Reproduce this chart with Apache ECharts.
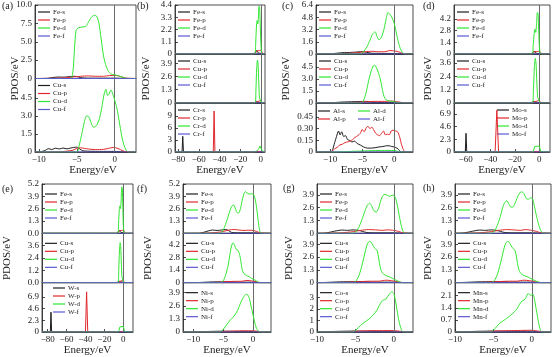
<!DOCTYPE html>
<html><head><meta charset="utf-8">
<script src="https://cdn.jsdelivr.net/npm/echarts@6/dist/echarts.min.js"></script>
<style>html,body{margin:0;padding:0;background:#fff}#c{width:554px;height:357px}</style>
</head><body><div id="c"></div><script>
// ---------- tick values / labels ----------
const xTicksA = [-10,-5,0];
const xTicksB = [-80,-60,-40,-20,0];
const xTicksC = [-10,-5,0];
const xTicksD = [-60,-40,-20,0];
const xTicksE = [-80,-60,-40,-20,0];
const xTicksF = [-10,-5,0];
const xTicksG = [-10,-5,0];
const xTicksH = [-10,-5,0];

const yTA1=[0,2.5,5,7.5,10], yLA1=['0','2.5','5.0','7.5','10.0'];
const yTA2=[0,1.5,3,4.5], yLA2=['0','1.5','3.0','4.5'];
const yTB1=[0,1.1,2.2,3.3,4.4], yLB1=['0','1.1','2.2','3.3','4.4'];
const yTB2=[0,1.3,2.6,3.9], yLB2=['0','1.3','2.6','3.9'];
const yTB3=[0,3,6,9], yLB3=['0','3','6','9'];
const yTC1=[0,1.6,3.2,4.8,6.4], yLC1=['0','1.6','3.2','4.8','6.4'];
const yTC2=[0,1.5,3,4.5], yLC2=['0','1.5','3.0','4.5'];
const yTC3=[0,0.15,0.3,0.45], yLC3=['0','0.15','0.30','0.45'];
const yTD1=[0,1.4,2.8,4.2], yLD1=['0','1.4','2.8','4.2'];
const yTD2=[0,1.2,2.4,3.6], yLD2=['0','1.2','2.4','3.6'];
const yTD3=[0,2.3,4.6,6.9], yLD3=['0','2.3','4.6','6.9'];
const yTE1=[0,1.3,2.6,3.9,5.2], yLE1=['0.0','1.3','2.6','3.9','5.2'];
const yTE2=[0,1.2,2.4,3.6], yLE2=['0.0','1.2','2.4','3.6'];
const yTE3=[0,2.3,4.6,6.9], yLE3=['0','2.3','4.6','6.9'];
const yTF1=[0,1.3,2.6,3.9,5.2], yLF1=['0','1.3','2.6','3.9','5.2'];
const yTF2=[0,1.4,2.8,4.2], yLF2=['0','1.4','2.8','4.2'];
const yTF3=[0,1.3,2.6,3.9], yLF3=['0','1.3','2.6','3.9'];
const yTG1=[0,1.3,2.6,3.9], yLG1=['0','1.3','2.6','3.9'];
const yTG3=[0,1,2,3], yLG3=['0','1','2','3'];
const yTH3=[0,0.7,1.4,2.1], yLH3=['0','0.7','1.4','2.1'];

// ---------- data: [energy, PDOS] ----------
// (a)
const aFe_s=[[-10.5,0],[-9,0.02],[-8.2,0.12],[-7.5,0.2],[-6.8,0.18],[-6,0.25],[-5.3,0.3],[-4.8,0.2],[-4.2,0.08],[-3,0.05],[-1,0.05],[0,0.05],[1,0.02],[2.8,0]];
const aFe_p=[[-10.5,0],[-8,0.03],[-6.5,0.1],[-5.5,0.2],[-4.5,0.3],[-3.5,0.35],[-2.5,0.3],[-1.5,0.3],[-0.7,0.4],[0,0.42],[0.5,0.35],[1.0,0.2],[1.5,0.05],[2.8,0]];
const aFe_d=[[-10.5,0],[-5.8,0],[-5.5,1],[-5.3,4],[-5.1,6.5],[-4.8,6.9],[-4.3,7.0],[-3.8,7.1],[-3.5,7.6],[-3.1,8.3],[-2.7,8.6],[-2.4,8.5],[-2.1,7.6],[-1.8,5.5],[-1.5,3.2],[-1.2,1.9],[-0.9,1.1],[-0.5,0.6],[0,0.5],[0.4,0.4],[0.9,0.2],[1.4,0.05],[1.8,0],[2.8,0]];
const aCu_s=[[-10.5,0],[-9.8,0.02],[-9.2,0.12],[-8.7,0.28],[-8.3,0.2],[-7.8,0.32],[-7.3,0.25],[-6.8,0.33],[-6.3,0.26],[-5.8,0.33],[-5.4,0.38],[-5.0,0.4],[-4.6,0.25],[-4.2,0.1],[-3,0.06],[-1,0.05],[0,0.05],[1,0.02],[2.8,0]];
const aCu_p=[[-10.5,0],[-7,0.03],[-5.5,0.15],[-5.0,0.3],[-4.5,0.35],[-4.0,0.3],[-3.5,0.25],[-2.5,0.2],[-1.5,0.22],[-0.8,0.3],[-0.2,0.38],[0.3,0.32],[0.8,0.18],[1.3,0.05],[2.8,0]];
const aCu_d=[[-10.5,0],[-5.0,0],[-4.7,0.5],[-4.3,1.6],[-4.0,2.5],[-3.7,3.0],[-3.4,2.9],[-3.1,2.4],[-2.8,2.05],[-2.4,2.2],[-2.0,2.8],[-1.7,3.7],[-1.4,4.8],[-1.15,5.2],[-0.95,4.7],[-0.75,4.8],[-0.5,5.15],[-0.25,4.8],[0,4.3],[0.3,3.6],[0.6,2.5],[0.9,1.4],[1.2,0.6],[1.5,0.15],[1.8,0],[2.8,0]];
const aZero=[[-10.5,0],[2.8,0]];
// (b)
const bFe_s=[[-83,0],[-7,0],[-5.5,0.15],[-4.5,0.3],[-3.5,0.25],[-2.5,0.1],[0,0.05],[1,0],[4,0]];
const bFe_p=[[-83,0],[-6.5,0],[-5,0.1],[-3.5,0.3],[-1.5,0.3],[0,0.35],[1,0.2],[2,0],[4,0]];
const bFe_d=[[-83,0],[-5.8,0],[-5,1.0],[-4.2,2.6],[-3.6,3.0],[-3.0,2.7],[-2.4,3.2],[-1.8,4.3],[-1.2,4.2],[-0.6,2.6],[0,1.0],[0.6,0.2],[1.5,0],[4,0]];
const bCu_s=[[-83,0],[-7,0],[-5.5,0.1],[-4.5,0.15],[-3,0.08],[0,0.05],[1,0],[4,0]];
const bCu_p=[[-83,0],[-6,0],[-4.5,0.1],[-2.5,0.15],[-0.5,0.25],[0.5,0.15],[1.5,0],[4,0]];
const bCu_d=[[-83,0],[-5.5,0],[-4.8,1.2],[-4.0,3.5],[-3.3,4.2],[-2.7,3.8],[-2.0,2.0],[-1.3,0.5],[0,0.2],[1,0],[4,0]];
const bCr_s=[[-83,0],[-76.2,0],[-75.5,3.9],[-74.8,0],[-7,0],[-5,0.1],[-2,0.1],[0,0.1],[1,0],[4,0]];
const bCr_p=[[-83,0],[-46,0],[-45.2,10.2],[-44.4,0],[-6,0],[-3,0.15],[0,0.15],[1,0],[4,0]];
const bCr_d=[[-83,0],[-6,0],[-4,0.3],[-2,0.8],[-1,1.5],[0,1.9],[0.8,1.6],[1.5,0.2],[2,0],[4,0]];
const bZero=[[-83,0],[4,0]];
// (c)
const cFe_s=[[-12.2,0],[-10,0.02],[-9,0.1],[-8,0.18],[-7,0.2],[-6,0.25],[-5,0.3],[-4.3,0.22],[-3.5,0.1],[-2,0.08],[0,0.06],[1,0.02],[2.9,0]];
const cFe_p=[[-12.2,0],[-9,0.03],[-7,0.1],[-5.5,0.2],[-4.5,0.3],[-3.5,0.35],[-2.5,0.3],[-1.5,0.3],[-0.7,0.45],[0,0.4],[0.6,0.3],[1.2,0.1],[1.8,0],[2.9,0]];
const cFe_d=[[-12.2,0],[-5.2,0],[-4.8,0.3],[-4.3,0.9],[-3.8,1.8],[-3.4,2.6],[-3.0,2.9],[-2.7,2.3],[-2.4,1.85],[-2.0,2.2],[-1.6,3.3],[-1.3,4.5],[-1.0,5.4],[-0.7,5.2],[-0.4,4.8],[-0.1,4.2],[0.2,3.2],[0.5,2.0],[0.8,1.0],[1.1,0.4],[1.4,0.05],[1.6,0],[2.9,0]];
const cCu_s=[[-12.2,0],[-10,0.02],[-8.5,0.1],[-7,0.15],[-5.5,0.18],[-4.5,0.2],[-3.5,0.1],[-2,0.06],[0,0.05],[1,0.02],[2.9,0]];
const cCu_p=[[-12.2,0],[-8,0.03],[-6,0.08],[-4.5,0.15],[-3,0.2],[-1.5,0.2],[-0.5,0.25],[0.5,0.15],[1.5,0.03],[2.9,0]];
const cCu_d=[[-12.2,0],[-5.2,0],[-4.8,0.3],[-4.4,1.3],[-4.0,2.8],[-3.6,4.0],[-3.3,4.6],[-3.05,4.7],[-2.8,4.4],[-2.5,3.8],[-2.2,3.0],[-1.9,1.8],[-1.6,0.8],[-1.3,0.4],[-0.8,0.25],[-0.3,0.2],[0.2,0.1],[0.7,0],[2.9,0]];
const cAl_s=[[-12.2,0],[-10,0],[-9.7,0.01],[-9.3,0.12],[-9.0,0.2],[-8.7,0.27],[-8.45,0.22],[-8.2,0.26],[-7.9,0.2],[-7.6,0.21],[-7.3,0.16],[-7.0,0.15],[-6.6,0.13],[-6.2,0.14],[-5.8,0.11],[-5.3,0.09],[-4.8,0.065],[-4.2,0.05],[-3.7,0.05],[-3.0,0.055],[-2.4,0.065],[-1.8,0.07],[-1.2,0.08],[-0.8,0.08],[-0.4,0.07],[0,0.065],[0.4,0.05],[0.8,0.02],[1.1,0],[2.9,0]];
const cAl_p=[[-12.2,0],[-10,0],[-9.7,0.01],[-9.3,0.04],[-8.9,0.06],[-8.5,0.09],[-8.1,0.1],[-7.7,0.12],[-7.3,0.13],[-6.9,0.14],[-6.5,0.16],[-6.1,0.19],[-5.7,0.21],[-5.3,0.24],[-5.0,0.29],[-4.7,0.26],[-4.4,0.31],[-4.1,0.33],[-3.8,0.3],[-3.5,0.32],[-3.2,0.28],[-2.9,0.24],[-2.6,0.22],[-2.3,0.21],[-2.0,0.24],[-1.7,0.27],[-1.4,0.22],[-1.1,0.23],[-0.8,0.22],[-0.5,0.27],[-0.2,0.28],[0.2,0.27],[0.5,0.26],[0.8,0.2],[1.1,0.1],[1.4,0.03],[1.7,0],[2.9,0]];
const cAl_d=[[-12.2,0],[-9.5,0],[-6,0.01],[-2,0.02],[0,0.02],[1,0],[2.9,0]];
const cZero=[[-12.2,0],[2.9,0]];
// (d)
const dFe_s=[[-69.5,0],[-7,0],[-5.5,0.15],[-4.5,0.3],[-3.5,0.25],[-2.5,0.1],[0,0.05],[1,0],[8.7,0]];
const dFe_p=[[-69.5,0],[-6.5,0],[-5,0.1],[-3.5,0.3],[-1.5,0.3],[0,0.35],[1,0.2],[2,0],[8.7,0]];
const dFe_d=[[-69.5,0],[-5.8,0],[-5,1.0],[-4.2,2.5],[-3.5,3.0],[-2.9,2.6],[-2.3,3.5],[-1.6,5.0],[-1.0,4.8],[-0.5,2.8],[0,1.0],[0.6,0.2],[1.5,0],[8.7,0]];
const dCu_s=[[-69.5,0],[-7,0],[-5.5,0.1],[-4.5,0.15],[-3,0.08],[0,0.05],[1,0],[8.7,0]];
const dCu_p=[[-69.5,0],[-6,0],[-4.5,0.1],[-2.5,0.15],[-0.5,0.25],[0.5,0.15],[1.5,0],[8.7,0]];
const dCu_d=[[-69.5,0],[-5.5,0],[-4.8,1.2],[-4.0,3.3],[-3.3,4.0],[-2.7,3.6],[-2.0,1.8],[-1.3,0.5],[0,0.2],[1,0],[8.7,0]];
const dMo_s=[[-69.5,0],[-60.3,0],[-59.7,3.4],[-59.1,0],[-6,0],[-4,0.05],[0,0.05],[1,0],[8.7,0]];
const dMo_p=[[-69.5,0],[-36,0],[-34.6,7.6],[-33.2,0],[-6,0],[-3,0.1],[0,0.1],[1,0],[8.7,0]];
const dMo_d=[[-69.5,0],[-5,0],[-4.3,0.3],[-3.8,1.0],[-2,1.05],[0,1.05],[0.6,1.0],[1.2,0.1],[1.6,0],[8.7,0]];
const dZero=[[-69.5,0],[8.7,0]];
// (e)
const eFe_s=[[-86,0],[-7,0],[-5.5,0.15],[-4.5,0.3],[-3.5,0.25],[-2.5,0.1],[0,0.05],[1,0],[10.3,0]];
const eFe_p=[[-86,0],[-6.5,0],[-5,0.1],[-3.5,0.3],[-1.5,0.3],[0,0.35],[1,0.2],[2,0],[10.3,0]];
const eFe_d=[[-86,0],[-5.8,0],[-5,1.0],[-4.2,2.5],[-3.5,2.9],[-2.9,2.6],[-2.3,3.4],[-1.6,4.9],[-1.0,4.7],[-0.5,2.8],[0,1.0],[0.6,0.2],[1.5,0],[10.3,0]];
const eCu_s=[[-86,0],[-7,0],[-5.5,0.1],[-4.5,0.15],[-3,0.08],[0,0.05],[1,0],[10.3,0]];
const eCu_p=[[-86,0],[-6,0],[-4.5,0.1],[-2.5,0.15],[-0.5,0.25],[0.5,0.15],[1.5,0],[10.3,0]];
const eCu_d=[[-86,0],[-5.5,0],[-4.8,1.2],[-4.0,3.2],[-3.3,3.9],[-2.7,3.5],[-2.0,1.8],[-1.3,0.5],[0,0.2],[1,0],[10.3,0]];
const eW_s=[[-86,0],[-77.2,0],[-76.5,3.9],[-75.8,0],[-7,0],[-5,0.05],[0,0.05],[1,0],[10.3,0]];
const eW_p=[[-86,0],[-40,0],[-38.8,7.9],[-37.6,0],[-6,0],[-3,0.1],[0,0.1],[1,0],[10.3,0]];
const eW_d=[[-86,0],[-5,0],[-4.3,0.3],[-3.6,1.0],[-2,1.1],[0,1.1],[0.7,1.0],[1.4,0.1],[2,0],[10.3,0]];
const eZero=[[-86,0],[10.3,0]];
// (f)
const fFe_s=[[-11.7,0],[-9,0],[-8.3,0.1],[-7.5,0.25],[-6.8,0.35],[-6,0.3],[-5.3,0.35],[-4.6,0.4],[-4.1,0.3],[-3.6,0.1],[-2,0.05],[0,0.05],[1,0.02],[3,0]];
const fFe_p=[[-11.7,0],[-8,0.02],[-6,0.1],[-5,0.2],[-4,0.35],[-3.2,0.4],[-2.4,0.35],[-1.5,0.3],[-0.7,0.33],[0,0.3],[0.6,0.2],[1.2,0.05],[3,0]];
const fFe_d=[[-11.7,0],[-5.6,0],[-5.2,0.15],[-4.8,0.6],[-4.4,1.3],[-4.0,2.1],[-3.6,2.8],[-3.3,3.0],[-3.0,2.7],[-2.7,2.2],[-2.4,2.15],[-2.1,2.6],[-1.8,3.5],[-1.5,4.2],[-1.3,4.4],[-1.0,4.25],[-0.6,4.15],[-0.2,4.15],[0.1,4.1],[0.35,3.6],[0.6,2.7],[0.85,1.4],[1.1,0.3],[1.35,0],[3,0]];
const fCu_s=[[-11.7,0],[-9,0.02],[-7,0.08],[-5,0.1],[-4,0.12],[-3,0.06],[0,0.05],[1,0],[3,0]];
const fCu_p=[[-11.7,0],[-7,0.02],[-5,0.08],[-4,0.12],[-3,0.15],[-2,0.15],[-1,0.25],[-0.3,0.2],[0.5,0.1],[1.2,0],[3,0]];
const fCu_d=[[-11.7,0],[-5.5,0],[-5.0,0.2],[-4.6,0.8],[-4.2,1.8],[-3.9,3.0],[-3.6,4.1],[-3.35,4.45],[-3.1,4.2],[-2.8,3.7],[-2.5,3.6],[-2.2,3.0],[-2.0,2.2],[-1.8,1.4],[-1.5,1.0],[-1.1,0.8],[-0.6,0.65],[-0.2,0.45],[0.3,0.3],[0.8,0.1],[1.2,0],[3,0]];
const fNi_s=[[-11.7,0],[-9,0.02],[-7,0.06],[-5,0.08],[-3,0.06],[0,0.05],[1,0],[3,0]];
const fNi_p=[[-11.7,0],[-7,0.02],[-5,0.06],[-3,0.1],[-1.5,0.12],[0,0.12],[1,0.05],[1.8,0],[3,0]];
const fNi_d=[[-11.7,0],[-5.6,0],[-5.2,0.1],[-4.8,0.4],[-4.3,0.8],[-3.8,1.2],[-3.3,1.5],[-2.8,1.9],[-2.4,2.4],[-2.0,3.0],[-1.6,3.45],[-1.2,3.75],[-0.9,3.7],[-0.6,3.3],[-0.3,2.5],[0.0,1.7],[0.3,0.9],[0.6,0.35],[0.9,0.08],[1.1,0],[3,0]];
const fZero=[[-11.7,0],[3,0]];
// (g)
const gFe_s=[[-10,0],[-9,0.02],[-8.3,0.12],[-7.5,0.25],[-6.8,0.33],[-6,0.3],[-5.3,0.35],[-4.6,0.3],[-4.1,0.2],[-3.5,0.08],[-2,0.05],[0,0.05],[1,0.02],[2.5,0]];
const gFe_p=[[-10,0],[-7,0.05],[-5.5,0.15],[-4.3,0.3],[-3.3,0.38],[-2.4,0.35],[-1.5,0.3],[-0.8,0.35],[0,0.3],[0.6,0.2],[1.2,0.05],[2.5,0]];
const gFe_d=[[-10,0],[-5.3,0],[-4.9,0.2],[-4.5,0.7],[-4.1,1.5],[-3.7,2.4],[-3.4,2.9],[-3.15,3.05],[-2.9,2.8],[-2.6,2.3],[-2.3,2.15],[-2.0,2.5],[-1.7,3.3],[-1.4,3.85],[-1.15,3.95],[-0.85,3.85],[-0.55,3.75],[-0.25,3.85],[0,3.85],[0.25,3.5],[0.5,2.7],[0.75,1.6],[1.0,0.7],[1.2,0.2],[1.4,0],[2.5,0]];
const gCu_s=[[-10,0],[-9,0.02],[-7,0.08],[-5,0.1],[-4,0.12],[-3,0.06],[0,0.05],[1,0],[2.5,0]];
const gCu_p=[[-10,0],[-7,0.02],[-5,0.08],[-4,0.12],[-3,0.15],[-2,0.15],[-1,0.25],[-0.3,0.2],[0.5,0.1],[1.2,0],[2.5,0]];
const gCu_d=[[-10,0],[-5.3,0],[-4.9,0.2],[-4.5,0.8],[-4.1,1.9],[-3.7,3.2],[-3.4,4.0],[-3.1,4.2],[-2.8,3.9],[-2.5,3.5],[-2.2,3.3],[-1.95,2.4],[-1.75,1.5],[-1.5,1.0],[-1.1,0.75],[-0.6,0.6],[-0.2,0.45],[0.3,0.25],[0.8,0.08],[1.2,0],[2.5,0]];
const gCo_s=[[-10,0],[-9,0.02],[-7,0.06],[-5,0.08],[-3,0.06],[0,0.05],[1,0],[2.5,0]];
const gCo_p=[[-10,0],[-7,0.02],[-5,0.06],[-3,0.12],[-1.5,0.12],[0,0.12],[1,0.05],[1.8,0],[2.5,0]];
const gCo_d=[[-10,0],[-5.3,0],[-5.0,0.1],[-4.6,0.4],[-4.1,0.7],[-3.6,0.95],[-3.1,1.2],[-2.6,1.55],[-2.2,1.9],[-1.9,2.3],[-1.6,2.65],[-1.3,2.8],[-1.05,2.85],[-0.8,3.1],[-0.5,3.35],[-0.25,3.5],[0,3.35],[0.2,2.8],[0.4,2.0],[0.6,1.2],[0.8,0.6],[1.0,0.2],[1.2,0],[2.5,0]];
const gZero=[[-10,0],[2.5,0]];
// (h)
const hFe_s=[[-10,0],[-9,0.02],[-8.3,0.12],[-7.5,0.25],[-6.8,0.33],[-6,0.3],[-5.3,0.35],[-4.6,0.3],[-4.1,0.2],[-3.5,0.08],[-2,0.05],[0,0.05],[1,0.02],[2.5,0]];
const hFe_p=[[-10,0],[-7,0.05],[-5.5,0.15],[-4.3,0.3],[-3.3,0.38],[-2.4,0.35],[-1.5,0.3],[-0.8,0.38],[0,0.3],[0.6,0.2],[1.2,0.05],[2.5,0]];
const hFe_d=[[-10,0],[-5.3,0],[-4.9,0.2],[-4.5,0.8],[-4.1,1.7],[-3.8,2.6],[-3.5,3.15],[-3.25,3.3],[-3.0,3.0],[-2.7,2.65],[-2.4,2.7],[-2.1,3.2],[-1.8,3.8],[-1.5,4.15],[-1.3,4.2],[-1.0,4.0],[-0.7,3.5],[-0.45,3.45],[-0.15,3.6],[0.1,3.5],[0.35,2.7],[0.6,1.8],[0.85,1.0],[1.1,0.4],[1.35,0.05],[1.5,0],[2.5,0]];
const hCu_s=[[-10,0],[-9,0.02],[-7,0.08],[-5,0.1],[-4,0.12],[-3,0.06],[0,0.05],[1,0],[2.5,0]];
const hCu_p=[[-10,0],[-7,0.02],[-5,0.08],[-4,0.12],[-3,0.15],[-2,0.15],[-1,0.25],[-0.3,0.2],[0.5,0.1],[1.2,0],[2.5,0]];
const hCu_d=[[-10,0],[-5.3,0],[-4.9,0.2],[-4.5,0.8],[-4.1,1.9],[-3.7,3.2],[-3.4,4.0],[-3.1,4.2],[-2.8,3.9],[-2.5,3.5],[-2.2,3.3],[-1.95,2.4],[-1.75,1.5],[-1.5,1.0],[-1.1,0.75],[-0.6,0.6],[-0.2,0.45],[0.3,0.25],[0.8,0.08],[1.2,0],[2.5,0]];
const hMn_s=[[-10,0],[-9,0.01],[-7,0.04],[-5,0.05],[-3,0.04],[0,0.04],[1,0],[2.5,0]];
const hMn_p=[[-10,0],[-7,0.01],[-5,0.05],[-3,0.08],[-1.5,0.09],[0,0.1],[1,0.04],[1.8,0],[2.5,0]];
const hMn_d=[[-10,0],[-5.3,0],[-5.0,0.1],[-4.6,0.3],[-4.2,0.5],[-3.8,0.62],[-3.3,0.78],[-2.8,0.95],[-2.3,1.15],[-1.9,1.35],[-1.6,1.6],[-1.3,1.78],[-1.0,1.85],[-0.75,2.0],[-0.5,2.22],[-0.3,2.18],[-0.1,2.1],[0.1,2.2],[0.3,2.0],[0.5,1.5],[0.7,1.0],[0.9,0.5],[1.1,0.15],[1.3,0],[2.5,0]];
const hZero=[[-10,0],[2.5,0]];

// ---------- layout ----------
const R1=[5,54,103,152], R2=[184,233.33,282.67,332];
const panels=[
 {label:'(a)',lp:[2,6],l:35,r:136,b:[5,78.5,152],xr:[-10.5,2.8],xt:xTicksA,nx:93,row:1,px:15,subs:[
   {el:'Fe',yr:[0,10],yt:yTA1,yl:yLA1,d:[aFe_s,aFe_p,aFe_d,aZero]},
   {el:'Cu',yr:[0,6.1],yt:yTA2,yl:yLA2,d:[aCu_s,aCu_p,aCu_d,aZero]}]},
 {label:'(b)',lp:[137,6],l:175,r:265,b:R1,xr:[-83,4],xt:xTicksB,row:1,px:146,subs:[
   {el:'Fe',yr:[0,4.4],yt:yTB1,yl:yLB1,d:[bFe_s,bFe_p,bFe_d,bZero]},
   {el:'Cu',yr:[0,4.8],yt:yTB2,yl:yLB2,d:[bCu_s,bCu_p,bCu_d,bZero]},
   {el:'Cr',yr:[0,12.2],yt:yTB3,yl:yLB3,d:[bCr_s,bCr_p,bCr_d,bZero],smooth:false}]},
 {label:'(c)',lp:[282,6],l:316,r:413,b:R1,xr:[-12.2,2.9],xt:xTicksC,row:1,px:286,subs:[
   {el:'Fe',yr:[0,6.4],yt:yTC1,yl:yLC1,d:[cFe_s,cFe_p,cFe_d,cZero]},
   {el:'Cu',yr:[0,6.1],yt:yTC2,yl:yLC2,d:[cCu_s,cCu_p,cCu_d,cZero]},
   {el:'Al',yr:[0,0.63],yt:yTC3,yl:yLC3,d:[cAl_s,cAl_p,cAl_d,cZero],leg:[[318,107,[0,1]],[358,107,[2,3]]]}]},
 {label:'(d)',lp:[423,6],l:454,r:550,b:R1,xr:[-69.5,8.7],xt:xTicksD,row:1,px:428,subs:[
   {el:'Fe',yr:[0,5.9],yt:yTD1,yl:yLD1,d:[dFe_s,dFe_p,dFe_d,dZero]},
   {el:'Cu',yr:[0,4.4],yt:yTD2,yl:yLD2,d:[dCu_s,dCu_p,dCu_d,dZero]},
   {el:'Mo',yr:[0,8.9],yt:yTD3,yl:yLD3,d:[dMo_s,dMo_p,dMo_d,dZero],leg:[[497,106,[0,1,2,3]]],smooth:false}]},
 {label:'(e)',lp:[2,189],l:42,r:133,b:R2,xr:[-86,10.3],xt:xTicksE,row:2,px:7,subs:[
   {el:'Fe',yr:[0,5.2],yt:yTE1,yl:yLE1,d:[eFe_s,eFe_p,eFe_d,eZero]},
   {el:'Cu',yr:[0,4.8],yt:yTE2,yl:yLE2,d:[eCu_s,eCu_p,eCu_d,eZero]},
   {el:'W',yr:[0,9.7],yt:yTE3,yl:yLE3,d:[eW_s,eW_p,eW_d,eZero],leg:[[53,284,[0,1,2,3]]],smooth:false}]},
 {label:'(f)',lp:[137,189],l:183,r:271,b:R2,xr:[-11.7,3],xt:xTicksF,row:2,px:148,subs:[
   {el:'Fe',yr:[0,5.2],yt:yTF1,yl:yLF1,d:[fFe_s,fFe_p,fFe_d,fZero]},
   {el:'Cu',yr:[0,5.5],yt:yTF2,yl:yLF2,d:[fCu_s,fCu_p,fCu_d,fZero]},
   {el:'Ni',yr:[0,4.9],yt:yTF3,yl:yLF3,d:[fNi_s,fNi_p,fNi_d,fZero]}]},
 {label:'(g)',lp:[283,188],l:317,r:413,b:R2,xr:[-10,2.5],xt:xTicksG,row:2,px:289,subs:[
   {el:'Fe',yr:[0,5],yt:yTG1,yl:yLG1,d:[gFe_s,gFe_p,gFe_d,gZero]},
   {el:'Cu',yr:[0,5],yt:yTG1,yl:yLG1,d:[gCu_s,gCu_p,gCu_d,gZero]},
   {el:'Co',yr:[0,4.3],yt:yTG3,yl:yLG3,d:[gCo_s,gCo_p,gCo_d,gZero]}]},
 {label:'(h)',lp:[423,188],l:455,r:551,b:R2,xr:[-10,2.5],xt:xTicksH,row:2,px:428,subs:[
   {el:'Fe',yr:[0,5],yt:yTG1,yl:yLG1,d:[hFe_s,hFe_p,hFe_d,hZero]},
   {el:'Cu',yr:[0,5],yt:yTG1,yl:yLG1,d:[hCu_s,hCu_p,hCu_d,hZero]},
   {el:'Mn',yr:[0,2.85],yt:yTH3,yl:yLH3,d:[hMn_s,hMn_p,hMn_d,hZero]}]}
];

const FONT='Liberation Serif', INK='#222';
const COL={s:'#1e1e1e',p:'#e0282c',d:'#30e630',f:'#5a5ad2'};
const ORB=['s','p','d','f'];
const grids=[],xAxes=[],yAxes=[],series=[],legends=[],graphics=[];
const fmtX=v=>v<0?'\u2212'+(-v):String(v);
let gi=0;
panels.forEach(P=>{
  const n=P.subs.length;
  P.subs.forEach((S,k)=>{
    const top=P.b[k],bot=P.b[k+1],isB=(k===n-1);
    grids.push({left:P.l,top:top,width:P.r-P.l,height:bot-top,show:true,borderColor:INK,borderWidth:0.8,backgroundColor:'transparent',containLabel:false});
    xAxes.push({gridIndex:gi,type:'value',min:P.xr[0],max:P.xr[1],splitLine:{show:false},
      axisLine:{show:true,onZero:false,lineStyle:{color:INK,width:0.8}},
      axisTick:{show:isB,inside:true,length:3,customValues:P.xt,lineStyle:{color:INK,width:0.8}},
      axisLabel:{show:isB,customValues:P.xt,margin:3,fontSize:9,fontFamily:FONT,color:INK,formatter:fmtX}});
    const yt=S.yt,yl=S.yl;
    yAxes.push({gridIndex:gi,type:'value',min:S.yr[0],max:S.yr[1],splitLine:{show:false},
      axisLine:{show:true,onZero:false,lineStyle:{color:INK,width:0.8}},
      axisTick:{show:true,inside:true,length:3,customValues:yt,lineStyle:{color:INK,width:0.8}},
      axisLabel:{customValues:yt,margin:3,fontSize:9,fontFamily:FONT,color:INK,
        formatter:v=>{const i=yt.findIndex(t=>Math.abs(t-v)<1e-9);return i>=0?yl[i]:'';}}});
    const names=ORB.map(o=>S.el+'-'+o);
    ORB.forEach((o,j)=>{
      const sr={type:'line',name:names[j],xAxisIndex:gi,yAxisIndex:gi,data:S.d[j],symbol:'none',showSymbol:false,
        smooth:(S.smooth===false)?false:0.25,lineStyle:{color:COL[o],width:1},itemStyle:{color:COL[o]},
        z:3+j,silent:true,animation:false};
      if(j===0){sr.markLine={silent:true,symbol:'none',label:{show:false},animation:false,
        lineStyle:{color:'#6a6a6a',width:1,type:'solid'},data:[{xAxis:0}]};}
      series.push(sr);
    });
    const legs=S.leg||[[P.l+3,top+(P.row===1?3:6),[0,1,2,3]]];
    legs.forEach(L=>{
      legends.push({left:L[0],top:L[1],orient:'vertical',icon:'rect',itemWidth:12,itemHeight:1.2,itemGap:0,padding:0,
        selectedMode:false,data:L[2].map(i=>names[i]),
        textStyle:{fontSize:7,fontFamily:FONT,color:INK,lineHeight:8,padding:[0,0,0,-2]}});
    });
    gi++;
  });
  const rowTop=P.b[0],rowBot=P.b[P.b.length-1];
  graphics.push({type:'text',x:P.lp[0],y:P.lp[1],style:{text:P.label,fontSize:10,fontFamily:FONT,fill:INK,align:'left',verticalAlign:'middle'}});
  graphics.push({type:'text',x:P.px,y:(rowTop+rowBot)/2,rotation:Math.PI/2,style:{text:'PDOS/eV',fontSize:11,fontFamily:FONT,fill:INK,align:'center',verticalAlign:'middle'}});
  graphics.push({type:'text',x:(P.nx!==undefined?P.nx:(P.l+P.r)/2),y:rowBot+18,style:{text:'Energy/eV',fontSize:11,fontFamily:FONT,fill:INK,align:'center',verticalAlign:'middle'}});
});

const chart=echarts.init(document.getElementById('c'),null,{renderer:'canvas'});
chart.setOption({animation:false,backgroundColor:'#fff',grid:grids,xAxis:xAxes,yAxis:yAxes,series:series,legend:legends,graphic:graphics});
</script></body></html>
